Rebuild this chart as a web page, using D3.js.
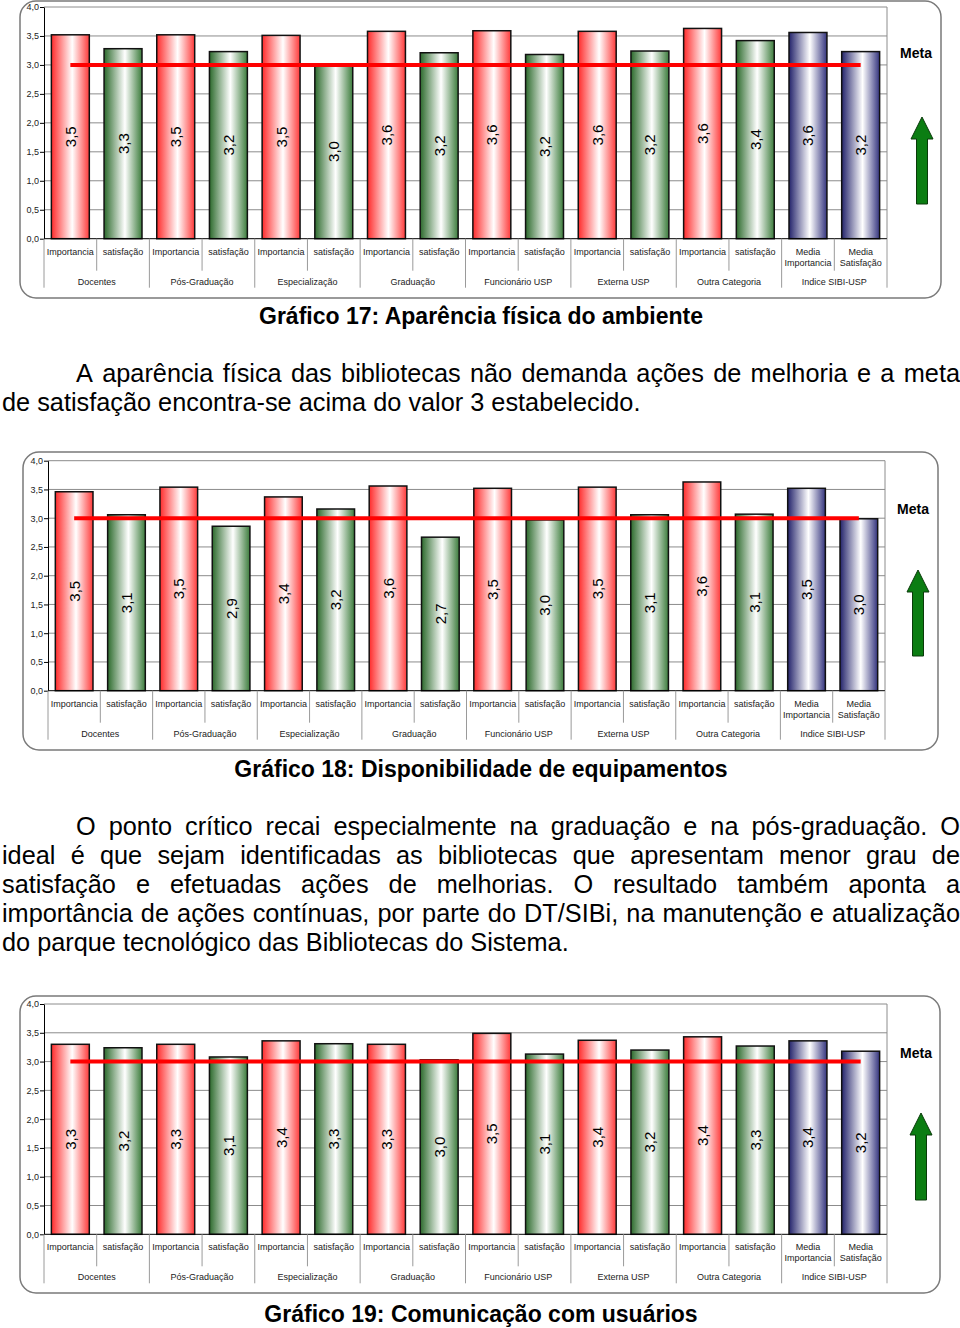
<!DOCTYPE html>
<html>
<head>
<meta charset="utf-8">
<script src="https://cdn.jsdelivr.net/npm/d3@7"></script>
<style>
  body { margin: 0; background: #fff; }
  svg { display: block; font-family: "Liberation Sans", Arial, sans-serif; }
</style>
</head>
<body>
<svg id="chart" width="960" height="1328"></svg>
<script>
// categories
const groups = ["Docentes", "Pós-Graduação", "Especialização", "Graduação",
  "Funcionário USP", "Externa USP", "Outra Categoria", "Indice SIBI-USP"];
const subLabels = [
  "Importancia", "satisfação", "Importancia", "satisfação", "Importancia", "satisfação",
  "Importancia", "satisfação", "Importancia", "satisfação", "Importancia", "satisfação",
  "Importancia", "satisfação", "Media|Importancia", "Media|Satisfação"
];
const barKinds = ["imp", "sat", "imp", "sat", "imp", "sat", "imp", "sat",
  "imp", "sat", "imp", "sat", "imp", "sat", "media", "media"];
const yTicks = [0, 0.5, 1, 1.5, 2, 2.5, 3, 3.5, 4];
const meta = 3.0;

// series values
const aparencia = [3.52, 3.28, 3.52, 3.23, 3.51, 3.01, 3.58, 3.21,
  3.59, 3.18, 3.58, 3.24, 3.63, 3.42, 3.56, 3.23];
const equipamentos = [3.46, 3.06, 3.54, 2.86, 3.37, 3.16, 3.56, 2.67,
  3.52, 2.97, 3.54, 3.06, 3.63, 3.07, 3.52, 2.99];
const comunicacao = [3.30, 3.24, 3.30, 3.08, 3.36, 3.31, 3.30, 3.03,
  3.49, 3.13, 3.37, 3.20, 3.43, 3.27, 3.36, 3.18];

const titles = [
  "Gráfico 17: Aparência física do ambiente",
  "Gráfico 18: Disponibilidade de equipamentos",
  "Gráfico 19: Comunicação com usuários"
];
const para1 = [
  "A aparência física das bibliotecas não demanda ações de melhoria e a meta",
  "de satisfação encontra-se acima do valor 3 estabelecido."
];
const para2 = [
  "O ponto crítico recai especialmente na graduação e na pós-graduação. O",
  "ideal é que sejam identificadas as bibliotecas que apresentam menor grau de",
  "satisfação e efetuadas ações de melhorias. O resultado também aponta a",
  "importância de ações contínuas, por parte do DT/SIBi, na manutenção e atualização",
  "do parque tecnológico das Bibliotecas do Sistema."
];

const svg = d3.select("#chart");
const fmt = d3.formatLocale({ decimal: ",", thousands: ".", grouping: [3], currency: ["", ""] }).format(".1f");

const defs = svg.append("defs");
const fills = {
  imp: ["#ff2b2b", "#ff3a3a"],
  sat: ["#2c6a2c", "#3c7c3c"],
  media: ["#23236b", "#34347e"]
};
Object.entries(fills).forEach(([k, c]) => {
  const lg = defs.append("linearGradient").attr("id", "g-" + k)
    .attr("x1", "0%").attr("x2", "100%").attr("y1", "0%").attr("y2", "0%");
  lg.append("stop").attr("offset", "0%").attr("stop-color", c[0]);
  lg.append("stop").attr("offset", "55%").attr("stop-color", "#ffffff");
  lg.append("stop").attr("offset", "100%").attr("stop-color", c[1]);
});

function drawChart(values, panel, plot, metaPos, arrow) {
  const g = svg.append("g");

  g.append("rect")
    .attr("x", panel.x).attr("y", panel.y)
    .attr("width", panel.w).attr("height", panel.h)
    .attr("rx", 16).attr("ry", 16)
    .attr("fill", "#fff").attr("stroke", "#7a7a7a").attr("stroke-width", 1.5);

  const x = d3.scaleBand()
    .domain(d3.range(values.length))
    .range([plot.x0, plot.x1])
    .paddingInner(0.28).paddingOuter(0.14);
  const y = d3.scaleLinear().domain([0, 4]).range([plot.y0, plot.y1]);

  // gridlines
  g.append("g").selectAll("line").data(yTicks.slice(1)).join("line")
    .attr("x1", plot.x0).attr("x2", plot.x1)
    .attr("y1", d => y(d)).attr("y2", d => y(d))
    .attr("stroke", "#8c8c8c").attr("stroke-width", 1);
  g.append("line")
    .attr("x1", plot.x1).attr("x2", plot.x1)
    .attr("y1", y(4)).attr("y2", y(0))
    .attr("stroke", "#8c8c8c");

  // y axis
  const yAxis = g.append("g")
    .attr("transform", `translate(${plot.x0},0)`)
    .call(d3.axisLeft(y).tickValues(yTicks).tickFormat(fmt).tickSize(4).tickSizeOuter(0));
  yAxis.select(".domain").attr("stroke", "#000");
  yAxis.selectAll(".tick line").attr("stroke", "#000");
  yAxis.selectAll(".tick text")
    .attr("font-size", 9).attr("fill", "#222")
    .attr("font-family", "Liberation Sans, Arial, sans-serif").attr("x", -5);

  // bars
  g.append("g").selectAll("rect").data(values).join("rect")
    .attr("x", (d, i) => x(i)).attr("width", x.bandwidth())
    .attr("y", d => y(d)).attr("height", d => y(0) - y(d))
    .attr("fill", (d, i) => `url(#g-${barKinds[i]})`)
    .attr("stroke", "#111").attr("stroke-width", 1.5);

  // value labels
  g.append("g").selectAll("text").data(values).join("text")
    .attr("transform", (d, i) =>
      `translate(${x(i) + x.bandwidth() / 2},${(y(d) + y(0)) / 2}) rotate(-90)`)
    .attr("text-anchor", "middle").attr("dominant-baseline", "central")
    .attr("font-size", 15).attr("fill", "#000")
    .text(d => fmt(d));

  // meta line
  g.append("line")
    .attr("x1", x(0) + x.bandwidth() / 2)
    .attr("x2", x(values.length - 1) + x.bandwidth() / 2)
    .attr("y1", y(meta)).attr("y2", y(meta))
    .attr("stroke", "#ff0000").attr("stroke-width", 4);

  // category axis
  g.append("line")
    .attr("x1", plot.x0).attr("x2", plot.x1)
    .attr("y1", y(0)).attr("y2", y(0))
    .attr("stroke", "#000");
  const step = x.step();
  const seps = g.append("g").attr("stroke", "#9a9a9a");
  d3.range(values.length + 1).forEach(i => {
    const xs = plot.x0 + i * step;
    seps.append("line")
      .attr("x1", xs).attr("x2", xs)
      .attr("y1", y(0)).attr("y2", y(0) + (i % 2 === 0 ? 49 : 32));
  });
  g.append("g").selectAll("text").data(subLabels).join("text")
    .attr("x", (d, i) => x(i) + x.bandwidth() / 2)
    .attr("y", y(0) + 16)
    .attr("text-anchor", "middle").attr("font-size", 9).attr("fill", "#222")
    .each(function (d) {
      const parts = d.split("|");
      d3.select(this).selectAll("tspan").data(parts).join("tspan")
        .attr("x", d3.select(this).attr("x"))
        .attr("dy", (p, j) => j === 0 ? 0 : 11)
        .text(p => p);
    });
  g.append("g").selectAll("text").data(groups).join("text")
    .attr("x", (d, i) => plot.x0 + (i * 2 + 1) * step)
    .attr("y", y(0) + 46)
    .attr("text-anchor", "middle").attr("font-size", 9).attr("fill", "#222")
    .text(d => d);

  // Meta label + arrow
  g.append("text")
    .attr("x", metaPos.x).attr("y", metaPos.y)
    .attr("text-anchor", "middle").attr("font-size", 14).attr("font-weight", "bold")
    .text("Meta");
  const a = arrow;
  const cx = (a.l + a.r) / 2;
  g.append("path")
    .attr("d", `M${cx},${a.top} L${a.r},${a.top + 22} L${cx + 5.5},${a.top + 22}
      L${cx + 5.5},${a.bottom} L${cx - 5.5},${a.bottom} L${cx - 5.5},${a.top + 22}
      L${a.l},${a.top + 22} Z`)
    .attr("fill", "#0b7d12").attr("stroke", "#0a3a0a").attr("stroke-width", 1);
}

function title(text, yPos) {
  svg.append("text")
    .attr("x", 481).attr("y", yPos)
    .attr("text-anchor", "middle").attr("font-size", 23).attr("font-weight", "bold")
    .text(text);
}

function paragraph(lines, yStart) {
  const lineH = 29;
  lines.forEach((line, li) => {
    const left = li === 0 ? 76 : 2;
    const right = 960;
    const t = svg.append("text").attr("y", yStart + li * lineH).attr("font-size", 25.3).attr("fill", "#000");
    const words = line.split(" ");
    const last = li === lines.length - 1;
    if (last) {
      t.attr("x", left).text(line);
      return;
    }
    const spans = words.map(w => t.append("tspan").text(w));
    const widths = spans.map(s => s.node().getComputedTextLength());
    const gap = (right - left - d3.sum(widths)) / (words.length - 1);
    let cur = left;
    spans.forEach((s, i) => {
      s.attr("x", cur);
      cur += widths[i] + gap;
    });
  });
}

drawChart(aparencia,
  { x: 20, y: 1, w: 921, h: 297 },
  { x0: 44, x1: 887, y0: 238.7, y1: 7 },
  { x: 916, y: 58 },
  { l: 911, r: 933, top: 117, bottom: 204 });
title(titles[0], 324);
paragraph(para1, 382);

drawChart(equipamentos,
  { x: 23, y: 452, w: 915, h: 298 },
  { x0: 48, x1: 885, y0: 690.7, y1: 460.7 },
  { x: 913, y: 514 },
  { l: 907, r: 929, top: 570, bottom: 656 });
title(titles[1], 777);
paragraph(para2, 835);

drawChart(comunicacao,
  { x: 20, y: 996, w: 920, h: 297 },
  { x0: 44, x1: 887, y0: 1234.3, y1: 1004 },
  { x: 916, y: 1058 },
  { l: 910, r: 932, top: 1113, bottom: 1200 });
title(titles[2], 1322);
</script>
</body>
</html>
